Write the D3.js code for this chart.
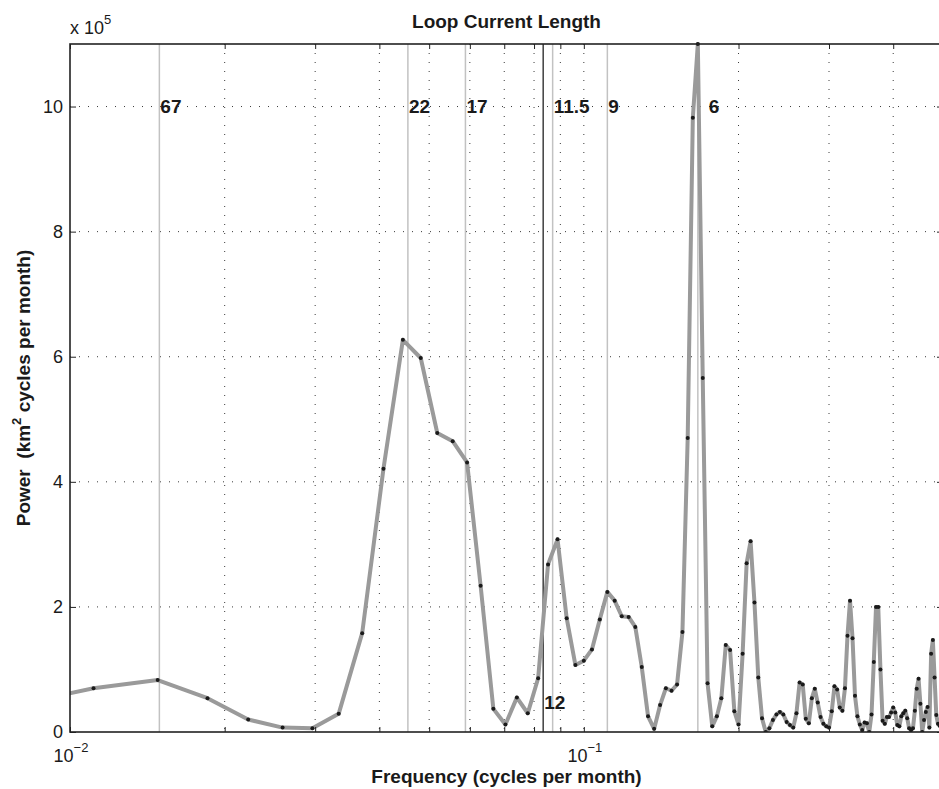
<!DOCTYPE html>
<html><head><meta charset="utf-8">
<script src="https://cdn.jsdelivr.net/npm/d3@7"></script>
<style>body{margin:0;background:#fff}svg{display:block}text{font-family:"Liberation Sans",Arial,Helvetica,sans-serif;fill:#1a1a1a}</style>
</head><body><svg id="c" width="939" height="789"></svg>
<script>
// ---- data ----
const title = "Loop Current Length";
const xLabel = "Frequency (cycles per month)";
const recordLengthMonths = 270;      // frequency resolution 1/270 cycles per month
const firstHarmonic = 2;             // power[i] belongs to harmonic firstHarmonic + i
const power = [                      // units of 10^5 km^2 cycles per month
  0.39, 0.70, 0.83, 0.54, 0.20, 0.07, 0.06, 0.29, 1.58, 4.21,
  6.27, 5.98, 4.78, 4.65, 4.31, 2.34, 0.37, 0.12, 0.55, 0.30,
  0.86, 2.68, 3.08, 1.82, 1.07, 1.14, 1.32, 1.80, 2.24, 2.10,
  1.85, 1.84, 1.68, 1.04, 0.25, 0.05, 0.43, 0.70, 0.66, 0.76,
  1.60, 4.70, 9.82, 11.0, 5.66, 0.78, 0.09, 0.25, 0.54, 1.39,
  1.31, 0.33, 0.12, 1.25, 2.70, 3.05, 2.07, 0.87, 0.22, 0.00,
  0.06, 0.19, 0.28, 0.32, 0.28, 0.16, 0.11, 0.07, 0.30, 0.79,
  0.76, 0.21, 0.14, 0.54, 0.69, 0.47, 0.24, 0.13, 0.09, 0.07,
  0.33, 0.73, 0.68, 0.39, 0.34, 0.70, 1.54, 2.10, 1.50, 0.58,
  0.25, 0.12, 0.03, 0.15, 0.14, 0.00, 0.28, 1.12, 2.00, 2.00,
  1.00, 0.18, 0.13, 0.24, 0.24, 0.31, 0.39, 0.31, 0.11, 0.09,
  0.25, 0.30, 0.34, 0.22, 0.06, 0.03, 0.06, 0.34, 0.69, 0.85,
  0.45, 0.00, 0.19, 0.32, 0.40, 0.07, 1.25, 1.47, 0.87, 0.27,
  0.13, 0.10, 0.15, 0.10
];
const grayPeriods = [67, 22, 17, 11.5, 9, 6];        // months
const grayPeriodLabels = ["67", "22", "17", "11.5", "9", "6"];
const blackPeriods = [12];
const blackPeriodLabels = ["12"];
const yTicks = [0, 2, 4, 6, 8, 10];
const xLabelTicks = [0.01, 0.1];
const xLabelExponents = ["\u22122", "\u22121"];
const yDomain = [0, 11];
const xDomain = [0.01, 0.5];

// ---- layout ----
const L = 70, R = 943, T = 44, B = 732;
const svg = d3.select("#c");
const x = d3.scaleLog().domain(xDomain).range([L, R]);
const y = d3.scaleLinear().domain(yDomain).range([B, T]);

const data = power.map((p, i) => ({ f: (firstHarmonic + i) / recordLengthMonths, p }));

svg.append("defs").append("clipPath").attr("id", "clip")
  .append("rect").attr("x", L).attr("y", T - 3).attr("width", R - L).attr("height", B - T + 3);

// grid
const gridColor = "#3a3a3a";
const xGridTicks = x.ticks().filter(t => t > xDomain[0] * 1.0001 && t < xDomain[1] * 0.9999);
svg.append("g").selectAll("line").data(xGridTicks).join("line")
  .attr("x1", d => x(d)).attr("x2", d => x(d)).attr("y1", T).attr("y2", B)
  .attr("stroke", gridColor).attr("stroke-width", 1).attr("stroke-dasharray", "1,8");
svg.append("g").selectAll("line").data(yTicks.filter(t => t > 0)).join("line")
  .attr("x1", L).attr("x2", R).attr("y1", d => y(d)).attr("y2", d => y(d))
  .attr("stroke", gridColor).attr("stroke-width", 1).attr("stroke-dasharray", "1,8");

// period lines
svg.append("g").selectAll("line").data(grayPeriods).join("line")
  .attr("x1", d => x(1 / d)).attr("x2", d => x(1 / d)).attr("y1", T).attr("y2", B)
  .attr("stroke", "#c2c2c2").attr("stroke-width", 1.5);
svg.append("g").selectAll("line").data(blackPeriods).join("line")
  .attr("x1", d => x(1 / d)).attr("x2", d => x(1 / d)).attr("y1", T).attr("y2", B)
  .attr("stroke", "#111").attr("stroke-width", 1.2);

// series
const plot = svg.append("g").attr("clip-path", "url(#clip)");
plot.append("path").datum(data)
  .attr("d", d3.line().x(d => x(d.f)).y(d => y(d.p)))
  .attr("fill", "none").attr("stroke", "#9a9a9a").attr("stroke-width", 4)
  .attr("stroke-linejoin", "round");
plot.append("g").selectAll("circle").data(data).join("circle")
  .attr("cx", d => x(d.f)).attr("cy", d => y(d.p)).attr("r", 2)
  .attr("fill", "#1a1a1a");

// period labels
const labelShift = { "6": 10 };
svg.append("g").selectAll("text").data(grayPeriods).join("text")
  .attr("x", (d, i) => x(1 / d) + 1 + (labelShift[grayPeriodLabels[i]] || 0))
  .attr("y", y(10)).attr("dy", "0.36em")
  .attr("font-size", 19).attr("font-weight", "bold")
  .text((d, i) => grayPeriodLabels[i]);
svg.append("g").selectAll("text").data(blackPeriods).join("text")
  .attr("x", d => x(1 / d) + 1).attr("y", y(0.48)).attr("dy", "0.36em")
  .attr("font-size", 19).attr("font-weight", "bold")
  .text((d, i) => blackPeriodLabels[i]);

// axes (ticks via d3 axes)
const axisColor = "#222";
function styleAxis(g) {
  g.select(".domain").remove();
  g.selectAll(".tick line").attr("stroke", axisColor).attr("stroke-width", 1);
  g.selectAll(".tick text").remove();
}
const xTickVals = x.ticks();
svg.append("g").attr("transform", `translate(0,${B})`)
  .call(d3.axisBottom(x).tickValues(xTickVals).tickSize(-5)).call(styleAxis);
svg.append("g").attr("transform", `translate(0,${T})`)
  .call(d3.axisTop(x).tickValues(xTickVals).tickSize(-5)).call(styleAxis);
svg.append("g").attr("transform", `translate(${L},0)`)
  .call(d3.axisLeft(y).tickValues(yTicks).tickSize(-6)).call(styleAxis);
svg.append("g").attr("transform", `translate(${R},0)`)
  .call(d3.axisRight(y).tickValues(yTicks).tickSize(-6)).call(styleAxis);

// frame
svg.append("rect").attr("x", L).attr("y", T).attr("width", R - L).attr("height", B - T)
  .attr("fill", "none").attr("stroke", axisColor).attr("stroke-width", 1.6);

// y tick labels
svg.append("g").selectAll("text").data(yTicks).join("text")
  .attr("x", L - 7).attr("y", d => y(d)).attr("dy", "0.36em")
  .attr("text-anchor", "end").attr("font-size", 18)
  .text(d => d);

// x tick labels 10^n
const xt = svg.append("g").selectAll("text").data(xLabelTicks).join("text")
  .attr("x", d => x(d) + 1).attr("y", B + 30)
  .attr("text-anchor", "middle").attr("font-size", 18);
xt.append("tspan").text("10");
xt.append("tspan").attr("dy", -10).attr("font-size", 13).text((d, i) => xLabelExponents[i]);

// exponent multiplier
const mult = svg.append("text").attr("x", L).attr("y", 34).attr("font-size", 18);
mult.append("tspan").text("x 10");
mult.append("tspan").attr("dy", -10).attr("font-size", 13).text("5");

// title & axis labels
svg.append("text").attr("x", (L + R) / 2).attr("y", 28).attr("text-anchor", "middle")
  .attr("font-size", 19).attr("font-weight", "bold").text(title);
svg.append("text").attr("x", (L + R) / 2).attr("y", 783).attr("text-anchor", "middle")
  .attr("font-size", 19).attr("font-weight", "bold").text(xLabel);
const yl = svg.append("text").attr("transform", `translate(30,${(T + B) / 2}) rotate(-90)`)
  .attr("text-anchor", "middle").attr("font-size", 19).attr("font-weight", "bold")
  .style("white-space", "pre");
yl.append("tspan").text("Power  (km");
yl.append("tspan").attr("dy", -9).attr("font-size", 13).text("2");
yl.append("tspan").attr("dy", 9).text(" cycles per month)");
</script></body></html>
